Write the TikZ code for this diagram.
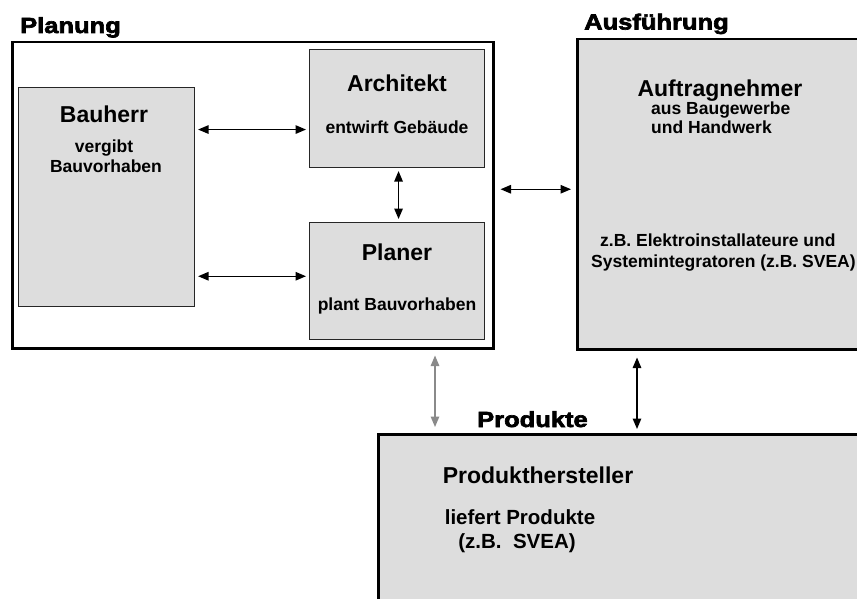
\documentclass[tikz,border=0pt]{standalone}
\usepackage{fontspec}
\setmainfont{Liberation Sans}
\newfontfamily\titlefont{Liberation Sans}[FakeStretch=1.17, BoldFeatures={FakeBold=3}]
\usetikzlibrary{arrows.meta}
\definecolor{boxgray}{RGB}{221,221,221}
\definecolor{arrowgray}{RGB}{138,138,138}
\tikzset{
  frame/.style={draw=black, line width=2.5pt, rectangle, inner sep=0pt, anchor=north west},
  box/.style={draw=black!85, line width=1.1pt, fill=boxgray, rectangle, inner sep=0pt, anchor=north west},
  heading/.style={inner sep=0pt, anchor=base, font=\fontsize{23}{27}\selectfont\bfseries},
  sub/.style={inner sep=0pt, anchor=base, font=\fontsize{17.5}{21}\selectfont\bfseries},
  subl/.style={sub, anchor=base west},
  subbig/.style={inner sep=0pt, anchor=base, font=\fontsize{20.5}{24}\selectfont\bfseries},
  sectitle/.style={inner sep=0pt, anchor=base west, font=\titlefont\fontsize{21.8}{25}\selectfont\bfseries},
  arr/.style={{Triangle[length=10.5pt,width=8.5pt]}-{Triangle[length=10.5pt,width=8.5pt]}, line width=1.4pt},
  arrgray/.style={arr, draw=arrowgray, fill=arrowgray}
}
\begin{document}
\begin{tikzpicture}[x=1pt, y=-1pt]
  \useasboundingbox (0,0) rectangle (857,599);
  \fill[white] (0,0) rectangle (857,599);
  \clip (0,0) rectangle (857,599);

  % section frames and boxes
  \node[frame, fill=white, minimum width=481pt, minimum height=306pt] (planung) at (11,41) {};
  \node[box, minimum width=176pt, minimum height=219pt] (bauherr) at (18,87) {};
  \node[box, minimum width=175pt, minimum height=118pt] (architekt) at (309,49) {};
  \node[box, minimum width=175pt, minimum height=117pt] (planer) at (309,222) {};
  \node[frame, fill=boxgray, minimum width=320pt, minimum height=310pt] (auftrag) at (576,38) {};
  \node[frame, fill=boxgray, minimum width=520pt, minimum height=200pt] (produkt) at (377,433) {};

  % section titles
  \node[sectitle] (tplanung) at (20,33) {Planung};
  \node[sectitle] (tausf) at (584,29.5) {Ausführung};
  \node[sectitle] (tprod) at (477,427) {Produkte};

  % Bauherr
  \node[heading] (bh1) at (104,123) {Bauherr};
  \node[sub] (bh2) at (104,153) {vergibt};
  \node[sub] (bh3) at (106,173) {Bauvorhaben};

  % Architekt
  \node[heading] (ar1) at (397,92) {Architekt};
  \node[sub] (ar2) at (397,134) {entwirft Gebäude};

  % Planer
  \node[heading] (pl1) at (397,260) {Planer};
  \node[sub] (pl2) at (397,310) {plant Bauvorhaben};

  % Auftragnehmer
  \node[heading] (au1) at (720,97) {Auftragnehmer};
  \node[subl] (au2) at (651,115) {aus Baugewerbe};
  \node[subl] (au3) at (651,134) {und Handwerk};
  \node[subl] (au4) at (600,246) {z.B. Elektroinstallateure und};
  \node[subl] (au5) at (591,267) {Systemintegratoren (z.B. SVEA)};

  % Produkthersteller
  \node[heading] (ph1) at (538,483) {Produkthersteller};
  \node[subbig] (ph2) at (520,524) {liefert Produkte};
  \node[subbig] (ph3) at (517,548) {(z.B.\ \ SVEA)};

  % connectors
  \coordinate (c1) at ([yshift=-21pt]architekt.west);
  \coordinate (c2) at ([yshift=4.8pt]planer.west);
  \coordinate (c3) at ([yshift=6pt]planung.east);
  \coordinate (c4) at ([xshift=58pt]produkt.north west);
  \coordinate (c5) at ([xshift=61pt]auftrag.south west);

  \draw[arr, shorten <=3pt, shorten >=3pt] (bauherr.east |- c1) -- (c1);
  \draw[arr, shorten <=3pt, shorten >=3pt] (bauherr.east |- c2) -- (c2);
  \draw[arr, shorten <=3pt, shorten >=3pt] ([xshift=1.5pt]architekt.south) -- ([xshift=1.5pt]planer.north);
  \draw[arr, shorten <=6pt, shorten >=5pt] (c3) -- (auftrag.west |- c3);
  \draw[arrgray, shorten <=6pt, shorten >=6pt] (c4 |- planung.south) -- (c4);
  \draw[arr, shorten <=7pt, shorten >=4pt] (c5) -- (c5 |- produkt.north);
\end{tikzpicture}
\end{document}
